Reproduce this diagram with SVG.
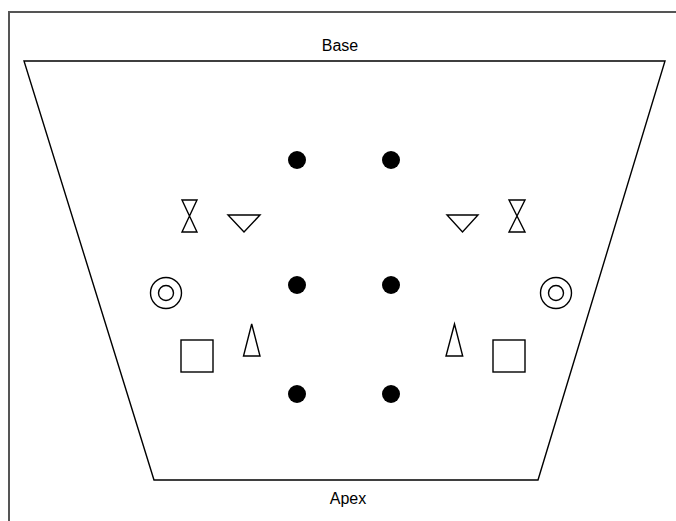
<svg xmlns="http://www.w3.org/2000/svg" width="676" height="521" viewBox="0 0 676 521">
<style>
.frame{fill:none;stroke:#555;stroke-width:2}
.sh{fill:none;stroke:#000;stroke-width:1.4;stroke-linejoin:miter}
.dot{fill:#000}
.lbl{font-family:"Liberation Sans",Arial,sans-serif;font-size:16px;fill:#000;text-anchor:middle}
</style>
<rect width="676" height="521" fill="#fff"/>
<path class="frame" d="M9,521 V12 H676"/>
<g id="trapezoid">
<polygon class="sh" points="24,61 665,61 538,480 154,480"/>
<text class="lbl" x="340" y="51">Base</text>
<text class="lbl" x="348" y="504">Apex</text>
</g>
<g id="dots">
<circle class="dot" cx="297" cy="160" r="9"/>
<circle class="dot" cx="391" cy="160" r="9"/>
<circle class="dot" cx="297" cy="285" r="9"/>
<circle class="dot" cx="391" cy="285" r="9"/>
<circle class="dot" cx="297" cy="394" r="9"/>
<circle class="dot" cx="391" cy="394" r="9"/>
</g>
<g id="left">
<polygon class="sh" points="182,200 197,200 182,232 197,232"/>
<polygon class="sh" points="228,215 260,215 244,232"/>
<circle class="sh" cx="166" cy="293" r="15.5"/>
<circle class="sh" cx="166" cy="293" r="7.5"/>
<rect class="sh" x="181" y="340" width="32" height="32"/>
<polygon class="sh" points="251.7,324 243.5,356 260,356"/>
</g>
<g id="right">
<polygon class="sh" points="509,200 525,200 509,232 525,232"/>
<polygon class="sh" points="447,215 478,215 462.5,232"/>
<circle class="sh" cx="556" cy="293" r="15.5"/>
<circle class="sh" cx="556" cy="293" r="7.5"/>
<rect class="sh" x="493" y="340" width="32" height="32"/>
<polygon class="sh" points="454.5,324 446,356 462.7,356"/>
</g>
</svg>
